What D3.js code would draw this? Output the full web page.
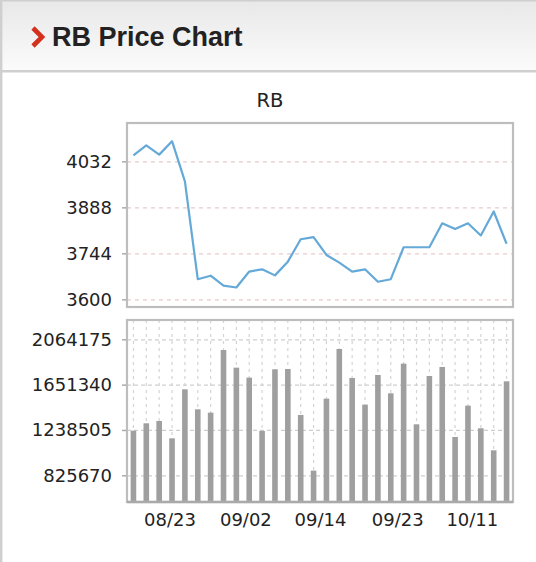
<!DOCTYPE html>
<html>
<head>
<meta charset="utf-8">
<script src="https://cdn.jsdelivr.net/npm/d3@7"></script>
<style>
    body { margin: 0; background: #fff; }
    svg { display: block; }
    .axis text { font-family: "DejaVu Sans", sans-serif; font-size: 18px; fill: #222; }
    .axis line { stroke: #aaa; stroke-width: 1.5; }
    .axis path { display: none; }
</style>
</head>
<body>
<svg id="chart" width="536" height="562"></svg>
<script>
// closing prices, one per trading day
const prices = [4051, 4082, 4053, 4095, 3969, 3663, 3674, 3643, 3637, 3687,
                3694, 3675, 3718, 3788, 3795, 3739, 3715, 3687, 3694, 3655,
                3663, 3763, 3763, 3763, 3838, 3820, 3838, 3800, 3875, 3774];

// traded volume, same days
const volumes = [1232400, 1299200, 1320500, 1162600, 1608800, 1426700, 1396300, 1967000, 1806100, 1715100,
                 1229400, 1791000, 1794000, 1375100, 868200, 1523800, 1976100, 1712000, 1469200, 1739400,
                 1572400, 1842600, 1290100, 1730200, 1812200, 1174800, 1460100, 1253700, 1053300, 1681700];

const priceTicks = [3600, 3744, 3888, 4032];
const volumeTicks = [825670, 1238505, 1651340, 2064175];

// date labels sit at these (day index) positions on the x axis
const dateTickIndex = [2.8, 8.7, 14.5, 20.5, 26.3];
const dateLabels = ["08/23", "09/02", "09/14", "09/23", "10/11"];

const svg = d3.select('#chart');

// header band
const defs = svg.append('defs');
const grad = defs.append('linearGradient')
    .attr('id', 'hdr').attr('x1', 0).attr('y1', 0).attr('x2', 0).attr('y2', 1);
grad.append('stop').attr('offset', '0%').attr('stop-color', '#e8e8e8');
grad.append('stop').attr('offset', '100%').attr('stop-color', '#fbfbfb');

svg.append('rect')
    .attr('x', 0).attr('y', 0).attr('width', 536).attr('height', 71)
    .attr('fill', 'url(#hdr)');
svg.append('line')
    .attr('x1', 0).attr('x2', 536).attr('y1', 0.75).attr('y2', 0.75)
    .attr('stroke', '#cfcfcf').attr('stroke-width', 1.5);
svg.append('line')
    .attr('x1', 0).attr('x2', 536).attr('y1', 71.2).attr('y2', 71.2)
    .attr('stroke', '#cfcfcf').attr('stroke-width', 2.4);
svg.append('line')
    .attr('x1', 1.2).attr('x2', 1.2).attr('y1', 0).attr('y2', 562)
    .attr('stroke', '#cfcfcf').attr('stroke-width', 2.4);

// red chevron + title
svg.append('path')
    .attr('d', 'M33,28 L42,37 L33,46')
    .attr('fill', 'none')
    .attr('stroke', '#d3311d')
    .attr('stroke-width', 4.6)
    .attr('stroke-linejoin', 'miter');
svg.append('text')
    .attr('x', 52).attr('y', 46)
    .attr('font-family', '"Liberation Sans", Arial, sans-serif')
    .attr('font-weight', 'bold')
    .attr('font-size', 27)
    .attr('fill', '#222')
    .text('RB Price Chart');

// chart title
svg.append('text')
    .attr('x', 270).attr('y', 107)
    .attr('text-anchor', 'middle')
    .attr('font-family', '"DejaVu Sans", sans-serif')
    .attr('font-size', 19.5)
    .attr('fill', '#222')
    .text('RB');

// plot areas
const left = 127, right = 513;
const price = { top: 123, bottom: 307 };
const vol = { top: 320, bottom: 502 };

const x = d3.scaleLinear()
    .domain([-0.5, prices.length - 0.5])
    .range([left, right]);

const yPrice = d3.scaleLinear()
    .domain([3576, 4152])
    .range([price.bottom, price.top]);

const yVol = d3.scaleLinear()
    .domain([582500, 2240000])
    .range([vol.bottom, vol.top]);

// ---- price panel ----
svg.append('g')
    .attr('transform', 'translate(' + left + ',0)')
    .call(d3.axisLeft(yPrice).tickValues(priceTicks).tickSize(-(right - left)).tickFormat(''))
    .call(g => g.select('.domain').remove())
    .selectAll('line')
    .attr('stroke', '#e6cccc')
    .attr('stroke-width', 1.2)
    .attr('stroke-dasharray', '4,4');

svg.append('g')
    .attr('class', 'axis')
    .attr('transform', 'translate(' + left + ',0)')
    .call(d3.axisLeft(yPrice).tickValues(priceTicks).tickSize(5).tickPadding(10).tickFormat(d3.format('d')));

svg.append('path')
    .datum(prices)
    .attr('fill', 'none')
    .attr('stroke', '#64a9d7')
    .attr('stroke-width', 2.2)
    .attr('stroke-linejoin', 'round')
    .attr('d', d3.line().x((d, i) => x(i)).y(d => yPrice(d)));

svg.append('rect')
    .attr('x', left).attr('y', price.top)
    .attr('width', right - left).attr('height', price.bottom - price.top)
    .attr('fill', 'none')
    .attr('stroke', '#bdbdbd')
    .attr('stroke-width', 2.2);

// ---- volume panel ----
// vertical dotted grid, one per day
svg.append('g')
    .selectAll('line')
    .data(volumes)
    .join('line')
    .attr('x1', (d, i) => x(i)).attr('x2', (d, i) => x(i))
    .attr('y1', vol.top).attr('y2', vol.bottom)
    .attr('stroke', '#d4d4d4')
    .attr('stroke-width', 1.2)
    .attr('stroke-dasharray', '3,4');

svg.append('g')
    .attr('transform', 'translate(' + left + ',0)')
    .call(d3.axisLeft(yVol).tickValues(volumeTicks).tickSize(-(right - left)).tickFormat(''))
    .call(g => g.select('.domain').remove())
    .selectAll('line')
    .attr('stroke', '#cfcfcf')
    .attr('stroke-width', 1.2)
    .attr('stroke-dasharray', '4,3');

svg.append('g')
    .attr('class', 'axis')
    .attr('transform', 'translate(' + left + ',0)')
    .call(d3.axisLeft(yVol).tickValues(volumeTicks).tickSize(5).tickPadding(10).tickFormat(d3.format('d')));

svg.append('g')
    .selectAll('rect')
    .data(volumes)
    .join('rect')
    .attr('x', (d, i) => x(i) - 2.8)
    .attr('width', 5.6)
    .attr('y', d => yVol(d))
    .attr('height', d => vol.bottom - yVol(d))
    .attr('fill', '#9f9f9f');

svg.append('rect')
    .attr('x', left).attr('y', vol.top)
    .attr('width', right - left).attr('height', vol.bottom - vol.top)
    .attr('fill', 'none')
    .attr('stroke', '#bdbdbd')
    .attr('stroke-width', 2.2);
svg.append('line')
    .attr('x1', left).attr('x2', right).attr('y1', vol.bottom).attr('y2', vol.bottom)
    .attr('stroke', '#aaa').attr('stroke-width', 2.6);

// date axis
svg.append('g')
    .attr('class', 'axis')
    .attr('transform', 'translate(0,' + vol.bottom + ')')
    .call(d3.axisBottom(x).tickValues(dateTickIndex).tickSize(0).tickPadding(11)
        .tickFormat((d, i) => dateLabels[i]));
</script>
</body>
</html>
